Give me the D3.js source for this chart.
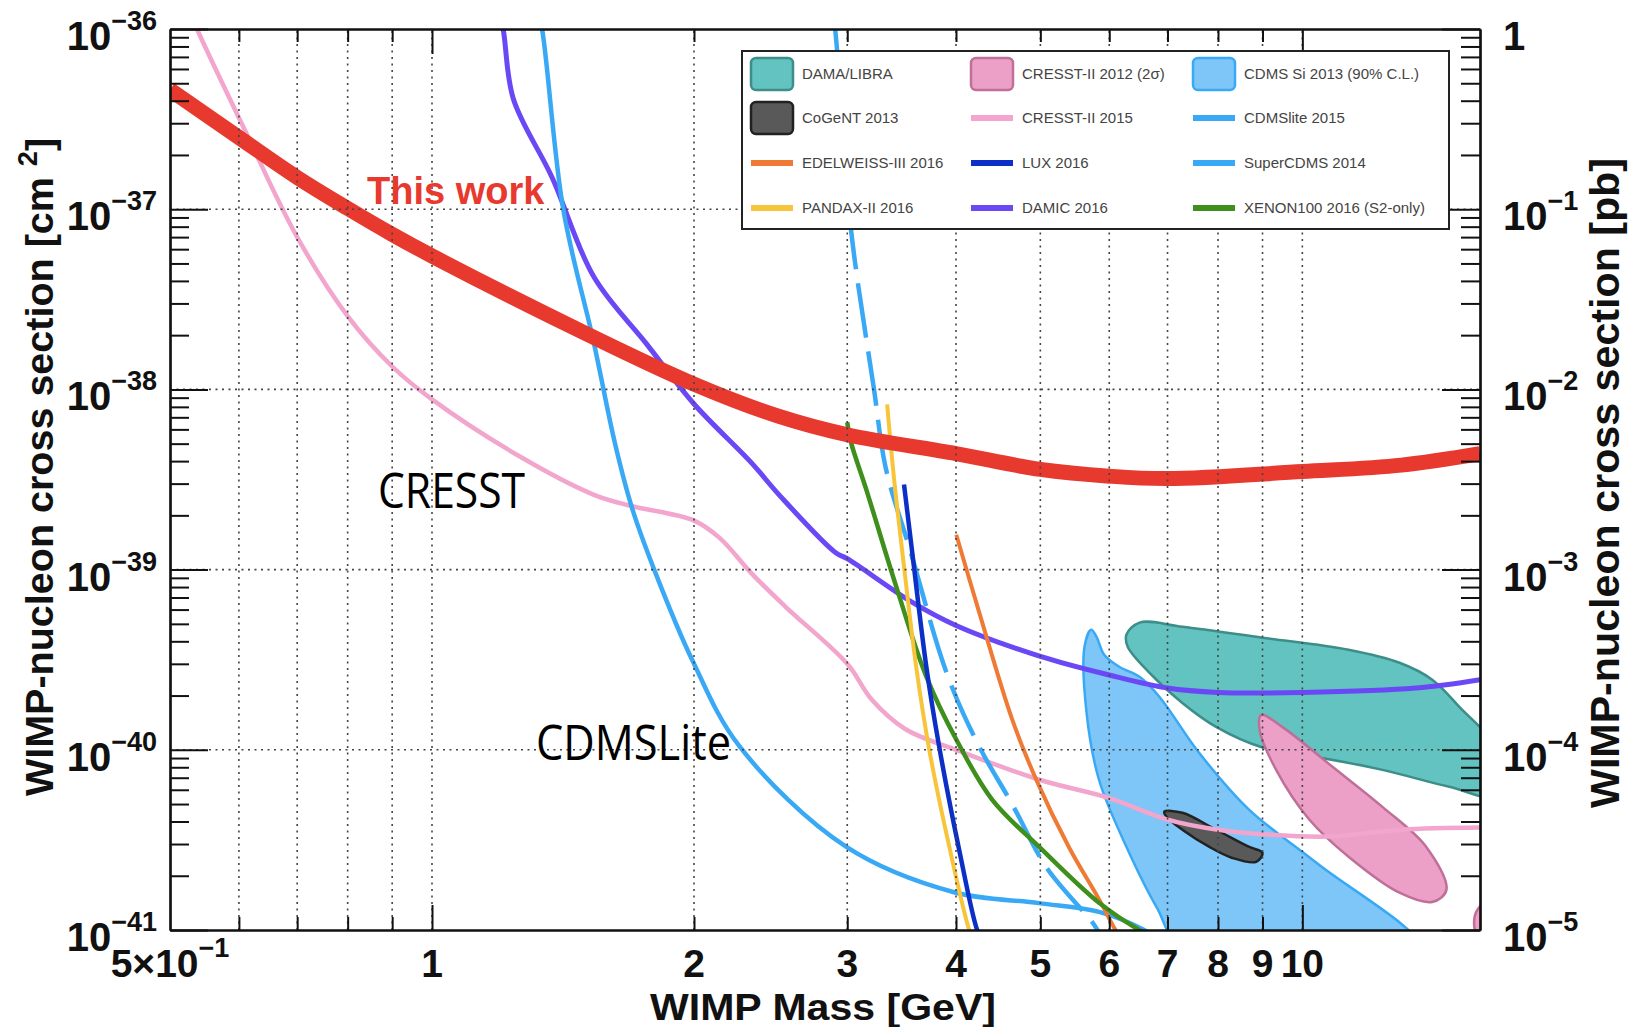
<!DOCTYPE html>
<html>
<head>
<meta charset="utf-8">
<script src="https://cdnjs.cloudflare.com/ajax/libs/d3/7.8.5/d3.min.js"></script>
<style>
body { margin: 0; background: #fff; }
text { font-family: "Liberation Sans", Arial, sans-serif; }
</style>
</head>
<body>
<script>
// values: [WIMP mass GeV, cross section cm^2]
var thisWork = [[0.5,4.6e-37],[0.6,2.5e-37],[0.7,1.5e-37],[0.8,1.01e-37],[0.9,7.25e-38],[1.0,5.5e-38],
    [1.5,2.05e-38],[2.0,1.07e-38],[2.5,7.1e-39],[3,5.6e-39],[4,4.4e-39],[5,3.6e-39],[6,3.3e-39],
    [7,3.2e-39],[10,3.5e-39],[13,3.8e-39],[16,4.4e-39]];
var cresst2015 = [[0.525,1.3e-36],[0.537,1e-36],[0.611,2.68e-37],[0.7,7.0e-38],[0.8,2.55e-38],[0.9,1.34e-38],
    [1.0,8.8e-39],[1.266,4.2e-39],[1.535,2.6e-39],[1.69,2.26e-39],[2.0,1.87e-39],[2.14,1.5e-39],
    [2.33,9.5e-40],[2.55,6.2e-40],[3,3.0e-40],[3.2,1.9e-40],[3.5,1.3e-40],[4,1.0e-40],[5,6.8e-41],
    [6,5.4e-41],[7,4.1e-41],[8,3.6e-41],[9,3.4e-41],[10.7,3.3e-41],[13,3.6e-41],[16,3.7e-41]];
var damic = [[1.19,1.3e-36],[1.207,1e-36],[1.24,4.1e-37],[1.374,1.5e-37],[1.535,4.2e-38],[1.762,1.8e-38],
    [2,8.3e-39],[2.33,3.9e-39],[2.505,2.6e-39],[2.91,1.24e-39],[3,1.15e-39],[3.56,6.6e-40],[4,4.9e-40],
    [5,3.3e-40],[6,2.6e-40],[7,2.2e-40],[8,2.08e-40],[10,2.08e-40],[13.5,2.2e-40],[16,2.45e-40]];
var cdmslite = [[1.32,1.3e-36],[1.338,1e-36],[1.415,1.0e-37],[1.535,1.8e-38],[1.623,5e-39],[1.70,2.15e-39],
    [1.80,1e-39],[1.99,3.16e-40],[2.254,1.05e-40],[2.99,2.9e-41],[3.98,1.62e-41],[4.98,1.41e-41],
    [5.84,1.26e-41],[6.58,1e-41],[6.8,0.9e-41]];
var superCdms = [[2.88,1.3e-36],[2.905,1e-36],[3.03,7.7e-38],[3.22,1e-38],[3.32,3.7e-39],[3.55,1.24e-39],
    [3.91,2.6e-40],[4.25,1.05e-40],[4.64,5.0e-41],[5.09,2.2e-41],[5.74,1.1e-41],[5.85,0.95e-41]];
var pandax = [[3.334,8.26e-39],[3.396,3.16e-39],[3.486,1.04e-39],[3.60,2.89e-40],[3.727,1.0e-40],
    [3.898,3.46e-41],[4.142,1e-41],[4.2,0.85e-41]];
var lux = [[3.486,2.97e-39],[3.563,1.24e-39],[3.698,2.89e-40],[3.826,1.04e-40],[4.034,2.78e-41],
    [4.23,1e-41],[4.3,0.85e-41]];
var xenon100 = [[3.0,6.56e-39],[3.03,5.08e-39],[3.155,2.78e-39],[3.415,8.05e-40],[3.698,2.55e-40],
    [4.003,1.14e-40],[4.403,5.28e-41],[4.985,2.89e-41],[5.845,1.41e-41],[6.495,1e-41],[6.8,0.9e-41]];
var edelweiss = [[4.003,1.56e-39],[4.254,5.77e-40],[4.642,1.47e-40],[4.947,6.81e-41],[5.397,2.86e-41],
    [5.845,1.47e-41],[6.1,1e-41],[6.2,0.9e-41]];

// closed regions
var damaLibra = [[6.28,4.36e-40],[6.5,5.08e-40],[7.28,4.82e-40],[9.0,4.19e-40],[11.3,3.59e-40],
    [12.93,3.04e-40],[14.1,2.45e-40],[15.15,1.73e-40],[16.84,9.6e-41],[16.84,5.5e-41],[14.75,6.23e-41],
    [12.36,7.74e-41],[10.37,9.14e-41],[9.0,1.03e-40],[7.96,1.34e-40],[7.28,1.82e-40],[6.67,2.68e-40],
    [6.3,3.73e-40]];
var cdmsSi = [[5.72,4.64e-40],[5.62,3.73e-40],[5.65,1.61e-40],[5.84,6.8e-41],[6.28,2.89e-41],
    [6.8,1.34e-41],[7.32,7.8e-42],[13.67,7.8e-42],[10.38,2.36e-41],[8.69,4.64e-41],[7.61,9.62e-41],
    [6.85,1.97e-40],[6.5,2.54e-40],[6.16,2.89e-40],[5.92,3.37e-40],[5.8,4.25e-40]];
var cresst2012 = [[8.97,1.56e-40],[9.48,1.34e-40],[10.83,8.05e-41],[12.36,4.82e-41],[13.88,2.89e-41],
    [14.64,1.67e-41],[14.1,1.43e-41],[12.93,1.61e-41],[11.3,2.55e-41],[10.19,4.09e-41],[9.33,7.74e-41],
    [8.93,1.29e-40]];
var cresst2012b = [[16.8,1.6e-41],[15.9,1.3e-41],[15.75,1.1e-41],[16.0,0.85e-41],[16.8,0.8e-41]];
var cogent = [[6.94,4.53e-41],[7.28,4.47e-41],[7.96,3.6e-41],[8.69,2.89e-41],[9.0,2.68e-41],
    [8.85,2.39e-41],[8.31,2.51e-41],[7.82,2.89e-41],[7.28,3.6e-41],[6.98,4.25e-41]];

// axis ticks
var xGrid = [0.6,0.7,0.8,0.9,1,2,3,4,5,6,7,8,9,10];
var xLabels = [1,2,3,4,5,6,7,8,9,10];
var yDecades = [-41,-40,-39,-38,-37,-36];

var width = 1637, height = 1027;
var svg = d3.select("body").append("svg")
    .attr("width", width)
    .attr("height", height);

var x = d3.scaleLog().domain([0.5, 16]).range([170, 1480]);
var y = d3.scaleLog().domain([1e-41, 1e-36]).range([930, 29]);

svg.append("defs").append("clipPath").attr("id", "plot")
  .append("rect")
    .attr("x", 170).attr("y", 29)
    .attr("width", 1310).attr("height", 901);

var plot = svg.append("g").attr("clip-path", "url(#plot)");

var line = d3.line()
    .x(function(d) { return x(d[0]); })
    .y(function(d) { return y(d[1]); })
    .curve(d3.curveCatmullRom);

var area = d3.line()
    .x(function(d) { return x(d[0]); })
    .y(function(d) { return y(d[1]); })
    .curve(d3.curveCatmullRomClosed);

// filled regions
var regions = [
    {d: damaLibra, fill: "#62c3c0", stroke: "#3d8d89"},
    {d: cdmsSi, fill: "#7dc6f7", stroke: "#3aa9f5"},
    {d: cresst2012, fill: "#ec9fc7", stroke: "#bf6f98"},
    {d: cresst2012b, fill: "#ec9fc7", stroke: "#bf6f98"},
    {d: cogent, fill: "#595959", stroke: "#222"}
];
regions.forEach(function(r) {
    plot.append("path")
        .attr("d", area(r.d))
        .attr("fill", r.fill)
        .attr("stroke", r.stroke)
        .attr("stroke-width", 2.5);
});

// limit curves
var curves = [
    {d: cresst2015, color: "#f2a5cd", w: 4.5},
    {d: damic, color: "#6a48f5", w: 5},
    {d: cdmslite, color: "#3aa9f5", w: 4.5},
    {d: superCdms, color: "#3aa9f5", w: 4.5, dash: "55,14"},
    {d: edelweiss, color: "#ef7a35", w: 4},
    {d: xenon100, color: "#3f8f1d", w: 4.5},
    {d: pandax, color: "#f8c43a", w: 4},
    {d: lux, color: "#0b2fc7", w: 4.5},
    {d: thisWork, color: "#e8392f", w: 15}
];
curves.forEach(function(c) {
    plot.append("path")
        .attr("d", line(c.d))
        .attr("fill", "none")
        .attr("stroke", c.color)
        .attr("stroke-width", c.w)
        .attr("stroke-dasharray", c.dash || null)
        .attr("stroke-linecap", "butt");
});

// dotted grid on top
var grid = svg.append("g")
    .attr("stroke", "#444")
    .attr("stroke-width", 1.6)
    .attr("stroke-dasharray", "2,4.5");
grid.selectAll("line.v")
    .data(xGrid)
    .enter().append("line")
    .attr("x1", function(d) { return x(d); })
    .attr("x2", function(d) { return x(d); })
    .attr("y1", y(1e-41)).attr("y2", y(1e-36));
grid.selectAll("line.h")
    .data(yDecades.slice(1, 5))
    .enter().append("line")
    .attr("y1", function(d) { return y(Math.pow(10, d)); })
    .attr("y2", function(d) { return y(Math.pow(10, d)); })
    .attr("x1", x(0.5)).attr("x2", x(16));

// axes
var yMinor = [], yMajor = [];
yDecades.forEach(function(e) {
    yMajor.push(Math.pow(10, e));
    if (e < -36) for (var k = 2; k < 10; k++) yMinor.push(k * Math.pow(10, e));
});
var xMinor = [0.6,0.7,0.8,0.9,2,3,4,5,6,7,8,9];
var xMajor = [1, 10];

function styleAxis(g) {
    g.selectAll("path").attr("stroke", "#111").attr("stroke-width", 2.2);
    g.selectAll("line").attr("stroke", "#111").attr("stroke-width", 2);
    g.selectAll("text").remove();
}

svg.append("g").attr("transform", "translate(170,0)")
    .call(d3.axisLeft(y).tickValues(yMinor).tickSize(-19).tickSizeOuter(0)).call(styleAxis);
svg.append("g").attr("transform", "translate(170,0)")
    .call(d3.axisLeft(y).tickValues(yMajor).tickSize(-38).tickSizeOuter(0)).call(styleAxis);
svg.append("g").attr("transform", "translate(1480,0)")
    .call(d3.axisRight(y).tickValues(yMinor).tickSize(-19).tickSizeOuter(0)).call(styleAxis);
svg.append("g").attr("transform", "translate(1480,0)")
    .call(d3.axisRight(y).tickValues(yMajor).tickSize(-38).tickSizeOuter(0)).call(styleAxis);
svg.append("g").attr("transform", "translate(0,930)")
    .call(d3.axisBottom(x).tickValues(xMinor).tickSize(-13).tickSizeOuter(0)).call(styleAxis);
svg.append("g").attr("transform", "translate(0,930)")
    .call(d3.axisBottom(x).tickValues(xMajor).tickSize(-25).tickSizeOuter(0)).call(styleAxis);
svg.append("g").attr("transform", "translate(0,29)")
    .call(d3.axisTop(x).tickValues(xMinor).tickSize(-13).tickSizeOuter(0)).call(styleAxis);
svg.append("g").attr("transform", "translate(0,29)")
    .call(d3.axisTop(x).tickValues(xMajor).tickSize(-25).tickSizeOuter(0)).call(styleAxis);

// tick labels
var lab = svg.append("g").attr("font-weight", "bold").attr("fill", "#111");

yDecades.forEach(function(e) {
    var t = lab.append("text")
        .attr("x", 157)
        .attr("y", y(Math.pow(10, e)) + 21)
        .attr("text-anchor", "end")
        .attr("font-size", 40);
    t.append("tspan").text("10");
    t.append("tspan").attr("font-size", 27).attr("dy", -20).text("\u2212" + (-e));

    var pb = e + 36;
    var r = lab.append("text")
        .attr("x", 1503)
        .attr("y", y(Math.pow(10, e)) + 21)
        .attr("font-size", 40);
    if (pb === 0) {
        r.text("1");
    } else {
        r.append("tspan").text("10");
        r.append("tspan").attr("font-size", 27).attr("dy", -20).text("\u2212" + (-pb));
    }
});

lab.selectAll("text.xl")
    .data(xLabels)
    .enter().append("text")
    .attr("x", function(d) { return x(d); })
    .attr("y", 977)
    .attr("text-anchor", "middle")
    .attr("font-size", 39)
    .text(function(d) { return d; });

var half = lab.append("text")
    .attr("x", x(0.5))
    .attr("y", 977)
    .attr("text-anchor", "middle")
    .attr("font-size", 39);
half.append("tspan").text("5\u00d710");
half.append("tspan").attr("font-size", 27).attr("dy", -20).text("\u22121");

// axis titles
var tl = lab.append("text")
    .attr("transform", "translate(53,467) rotate(-90)")
    .attr("text-anchor", "middle")
    .attr("font-size", 39.5);
tl.append("tspan").text("WIMP-nucleon cross section [cm ");
tl.append("tspan").attr("font-size", 27).attr("dy", -16).text("2");
tl.append("tspan").attr("dy", 16).text("]");

lab.append("text")
    .attr("transform", "translate(1619,483) rotate(-90)")
    .attr("text-anchor", "middle")
    .attr("font-size", 40)
    .attr("textLength", 650)
    .attr("lengthAdjust", "spacingAndGlyphs")
    .text("WIMP-nucleon cross section [pb]");

lab.append("text")
    .attr("x", 823)
    .attr("y", 1020)
    .attr("text-anchor", "middle")
    .attr("font-size", 37)
    .attr("textLength", 346)
    .attr("lengthAdjust", "spacingAndGlyphs")
    .text("WIMP Mass [GeV]");

// annotations
svg.append("text")
    .attr("x", 367).attr("y", 204)
    .attr("font-size", 38)
    .attr("font-weight", "bold")
    .attr("fill", "#e8392f")
    .text("This work");

svg.append("text")
    .attr("x", 378).attr("y", 508)
    .attr("font-size", 50)
    .style("font-family", "'Open Sans', sans-serif")
    .attr("textLength", 147)
    .attr("lengthAdjust", "spacingAndGlyphs")
    .text("CRESST");

svg.append("text")
    .attr("x", 536).attr("y", 760)
    .attr("font-size", 50)
    .style("font-family", "'Open Sans', sans-serif")
    .attr("textLength", 195)
    .attr("lengthAdjust", "spacingAndGlyphs")
    .text("CDMSLite");

// legend
var legend = svg.append("g");
legend.append("rect")
    .attr("x", 742).attr("y", 51)
    .attr("width", 707).attr("height", 178)
    .attr("fill", "#fff")
    .attr("stroke", "#222")
    .attr("stroke-width", 2);

var colX = [751, 971, 1193];
var rowY = [74, 118, 163, 208];
var entries = [
    {label: "DAMA/LIBRA", box: regions[0]},
    {label: "CRESST-II 2012 (2\u03c3)", box: regions[2]},
    {label: "CDMS Si 2013 (90% C.L.)", box: regions[1]},
    {label: "CoGeNT 2013", box: regions[4]},
    {label: "CRESST-II 2015", color: "#f2a5cd"},
    {label: "CDMSlite 2015", color: "#3aa9f5"},
    {label: "EDELWEISS-III 2016", color: "#ef7a35"},
    {label: "LUX 2016", color: "#0b2fc7"},
    {label: "SuperCDMS 2014", color: "#3aa9f5"},
    {label: "PANDAX-II 2016", color: "#f8c43a"},
    {label: "DAMIC 2016", color: "#6a48f5"},
    {label: "XENON100 2016 (S2-only)", color: "#3f8f1d"}
];
entries.forEach(function(e, i) {
    var cx = colX[i % 3], cy = rowY[Math.floor(i / 3)];
    if (e.box) {
        legend.append("rect")
            .attr("x", cx).attr("y", cy - 16)
            .attr("width", 42).attr("height", 32)
            .attr("rx", 5)
            .attr("fill", e.box.fill)
            .attr("stroke", e.box.stroke)
            .attr("stroke-width", 2.5);
    } else {
        legend.append("line")
            .attr("x1", cx).attr("x2", cx + 42)
            .attr("y1", cy).attr("y2", cy)
            .attr("stroke", e.color)
            .attr("stroke-width", 6);
    }
    legend.append("text")
        .attr("x", cx + 51).attr("y", cy + 5)
        .attr("font-size", 15)
        .attr("fill", "#444")
        .text(e.label);
});
</script>
</body>
</html>
